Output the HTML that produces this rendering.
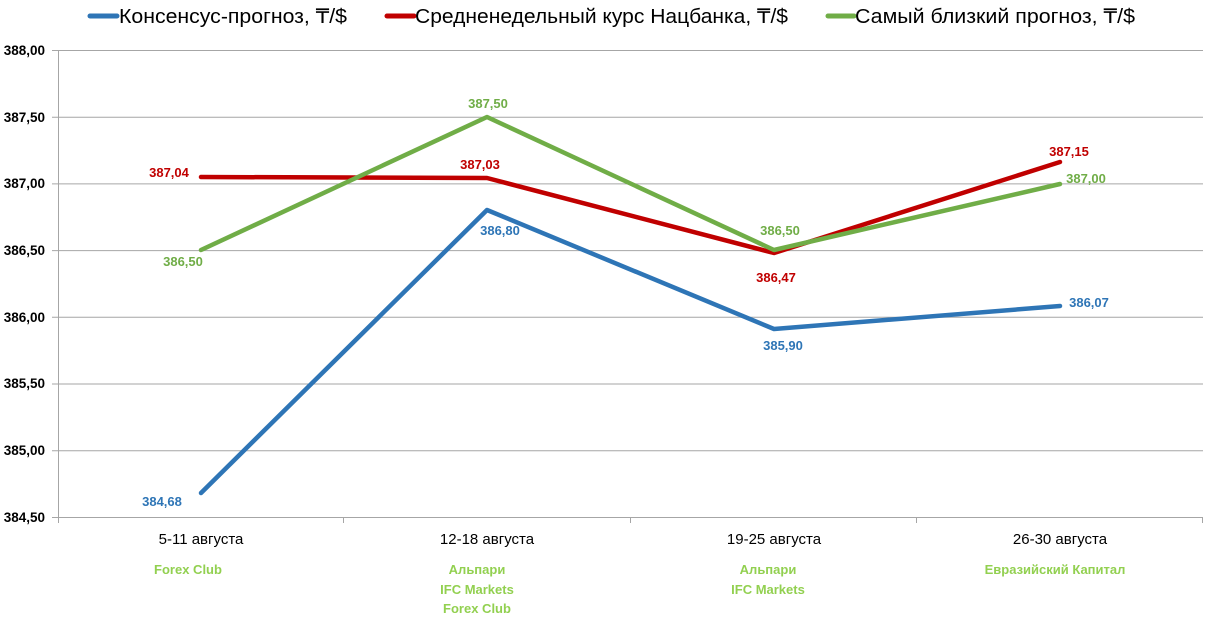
<!DOCTYPE html>
<html><head><meta charset="utf-8"><style>
html,body{margin:0;padding:0;background:#fff}
svg{display:block;font-family:"Liberation Sans",sans-serif}
</style></head><body>
<svg width="1213" height="625" viewBox="0 0 1213 625" xmlns="http://www.w3.org/2000/svg">
<g stroke="#a6a6a6" stroke-width="1">
<line x1="52" y1="50.5" x2="1203" y2="50.5"/>
<line x1="52" y1="117.2" x2="1203" y2="117.2"/>
<line x1="52" y1="183.9" x2="1203" y2="183.9"/>
<line x1="52" y1="250.6" x2="1203" y2="250.6"/>
<line x1="52" y1="317.3" x2="1203" y2="317.3"/>
<line x1="52" y1="384" x2="1203" y2="384"/>
<line x1="52" y1="450.7" x2="1203" y2="450.7"/>
<line x1="52" y1="517.5" x2="1203" y2="517.5"/>
<line x1="58.5" y1="50" x2="58.5" y2="523"/>
<line x1="343.5" y1="517" x2="343.5" y2="523"/>
<line x1="630.5" y1="517" x2="630.5" y2="523"/>
<line x1="916.5" y1="517" x2="916.5" y2="523"/>
<line x1="1202.5" y1="517" x2="1202.5" y2="523"/>
</g>
<g font-size="13.5" font-weight="bold" fill="#000" text-anchor="end">
<text x="45" y="55">388,00</text><text x="45" y="122">387,50</text>
<text x="45" y="188">387,00</text><text x="45" y="255">386,50</text>
<text x="45" y="322">386,00</text><text x="45" y="388">385,50</text>
<text x="45" y="455">385,00</text><text x="45" y="522">384,50</text>
</g>
<g fill="none" stroke-width="4.5" stroke-linecap="round" stroke-linejoin="round">
<polyline stroke="#2e75b6" points="201,493 487,210 774,329 1060,306"/>
<polyline stroke="#c00000" points="201,177 487,178 774,253 1060,162"/>
<polyline stroke="#70ad47" points="201,250 487,117 774,250 1060,184"/>
</g>
<g font-size="13" font-weight="bold" text-anchor="middle">
<g fill="#2e75b6"><text x="162" y="506">384,68</text><text x="500" y="235">386,80</text><text x="783" y="350">385,90</text><text x="1089" y="307">386,07</text></g>
<g fill="#c00000"><text x="169" y="177">387,04</text><text x="480" y="169">387,03</text><text x="776" y="282">386,47</text><text x="1069" y="156">387,15</text></g>
<g fill="#70ad47"><text x="183" y="266">386,50</text><text x="488" y="108">387,50</text><text x="780" y="235">386,50</text><text x="1086" y="183">387,00</text></g>
</g>
<g font-size="15" fill="#000" text-anchor="middle">
<text x="201" y="544">5-11 августа</text><text x="487" y="544">12-18 августа</text>
<text x="774" y="544">19-25 августа</text><text x="1060" y="544">26-30 августа</text>
</g>
<g font-size="13" font-weight="bold" fill="#92d050" text-anchor="middle">
<text x="188" y="574">Forex Club</text>
<text x="477" y="574">Альпари</text><text x="477" y="594">IFC Markets</text><text x="477" y="613">Forex Club</text>
<text x="768" y="574">Альпари</text><text x="768" y="594">IFC Markets</text>
<text x="1055" y="574">Евразийский Капитал</text>
</g>
<g stroke-width="5" stroke-linecap="round">
<line x1="90" y1="16" x2="117" y2="16" stroke="#2e75b6"/>
<line x1="387" y1="16" x2="414" y2="16" stroke="#c00000"/>
<line x1="828" y1="16" x2="854" y2="16" stroke="#70ad47"/>
</g>
<g font-size="20" fill="#000">
<text x="119" y="23" textLength="228" lengthAdjust="spacingAndGlyphs">Консенсус-прогноз, ₸/$</text>
<text x="415" y="23" textLength="373" lengthAdjust="spacingAndGlyphs">Средненедельный курс Нацбанка, ₸/$</text>
<text x="855" y="23" textLength="280" lengthAdjust="spacingAndGlyphs">Самый близкий прогноз, ₸/$</text>
</g>
</svg>
</body></html>
